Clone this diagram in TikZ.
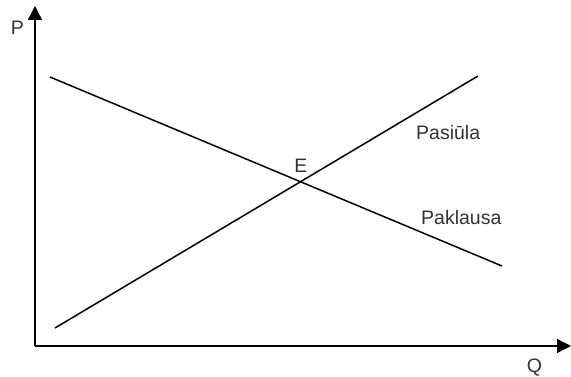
\documentclass[tikz,border=0pt]{standalone}
\usepackage{fontspec}
\setmainfont{Liberation Sans}
\usetikzlibrary{arrows.meta}
\begin{document}
\begin{tikzpicture}[x=1pt,y=-1pt,
  axis/.style={line width=1.4pt,-{Triangle[length=14pt,width=14pt]}},
  curve/.style={line width=1.5pt},
  lbl/.style={font=\fontsize{19.5}{22}\selectfont,text=black!80,inner sep=0pt}]
\useasboundingbox (0,0) rectangle (571,377);
\coordinate (O) at (35,346);
\coordinate (ytop) at (35,6);
\coordinate (xend) at (571,346);
\draw[axis] (O) -- (ytop);
\draw[axis] (O) -- (xend);
\coordinate (s1) at (55,328);
\coordinate (s2) at (478,76);
\coordinate (d1) at (50,77);
\coordinate (d2) at (502,266);
\draw[curve] (s1) -- (s2);
\draw[curve] (d1) -- (d2);
\node[lbl,anchor=base] (P) at (17.5,35) {P};
\node[lbl,anchor=base] (Q) at (534.5,372) {Q};
\node[lbl,anchor=base] (E) at (301,173) {E};
\node[lbl,anchor=base west] (S) at (416,140) {Pasiūla};
\node[lbl,anchor=base west] (D) at (421,225) {Paklausa};
\end{tikzpicture}
\end{document}
